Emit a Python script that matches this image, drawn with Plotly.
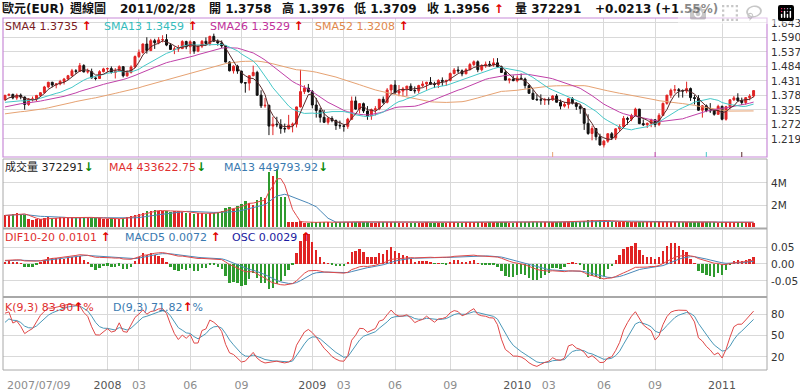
import numpy as np
import pandas as pd
import plotly.graph_objects as go

# ---------------- data (EUR weekly) ----------------
start_date = "2007-07-09"

# 52 weekly closes before the first visible bar (used only to warm up the averages)
pre_close = [1.2650, 1.2560, 1.2740, 1.2880, 1.2820, 1.2890, 1.2770, 1.2820, 1.2700, 1.2660,
             1.2800, 1.2690, 1.2670, 1.2520, 1.2570, 1.2750, 1.2760, 1.2830, 1.2840, 1.3070,
             1.3270, 1.3250, 1.3150, 1.3120, 1.3200, 1.3000, 1.2930, 1.2960, 1.2950, 1.3040,
             1.2990, 1.3140, 1.3200, 1.3170, 1.3120, 1.3270, 1.3330, 1.3350, 1.3410, 1.3520,
             1.3610, 1.3630, 1.3560, 1.3520, 1.3510, 1.3450, 1.3450, 1.3360, 1.3390, 1.3460,
             1.3540, 1.3620]

opens = [1.3620, 1.3785, 1.3818, 1.3690, 1.3790, 1.3720, 1.3450, 1.3640, 1.3650, 1.3780,
         1.3880, 1.4090, 1.4260, 1.4160, 1.4200, 1.4290, 1.4380, 1.4500, 1.4680, 1.4660,
         1.4870, 1.4640, 1.4650, 1.4420, 1.4400, 1.4650, 1.4750, 1.4760, 1.4620, 1.4680,
         1.4830, 1.4500, 1.4620, 1.4820, 1.5200, 1.5350, 1.5660, 1.5420, 1.5780, 1.5710,
         1.5810, 1.5820, 1.5620, 1.5460, 1.5480, 1.5490, 1.5750, 1.5560, 1.5740, 1.5400,
         1.5580, 1.5760, 1.5680, 1.5940, 1.5760, 1.5700, 1.5590, 1.5000, 1.4680, 1.4850,
         1.4670, 1.4250, 1.4230, 1.4500, 1.4620, 1.3790, 1.3400, 1.3420, 1.2660, 1.2730,
         1.2710, 1.2570, 1.2560, 1.2690, 1.2730, 1.3360, 1.3920, 1.4050, 1.3920, 1.3430,
         1.3230, 1.2980, 1.2800, 1.2940, 1.2860, 1.2680, 1.2670, 1.2650, 1.2910, 1.3580,
         1.3280, 1.3480, 1.3210, 1.3030, 1.3260, 1.3290, 1.3640, 1.3530, 1.3980, 1.4160,
         1.3870, 1.3940, 1.4020, 1.4120, 1.3960, 1.3950, 1.4140, 1.4200, 1.4260, 1.4190,
         1.4180, 1.4330, 1.4300, 1.4330, 1.4580, 1.4710, 1.4680, 1.4570, 1.4720, 1.4910,
         1.5010, 1.4720, 1.4860, 1.4920, 1.4890, 1.4970, 1.4830, 1.4620, 1.4340, 1.4380,
         1.4320, 1.4410, 1.4380, 1.4140, 1.3860, 1.3640, 1.3620, 1.3610, 1.3630, 1.3620,
         1.3760, 1.3530, 1.3390, 1.3450, 1.3660, 1.3500, 1.3380, 1.3300, 1.2760, 1.2390,
         1.2570, 1.2270, 1.1970, 1.2110, 1.2380, 1.2230, 1.2560, 1.2640, 1.2940, 1.2910,
         1.3050, 1.3280, 1.2750, 1.2710, 1.2760, 1.2890, 1.2720, 1.3050, 1.3490, 1.3790,
         1.3970, 1.3990, 1.3960, 1.3940, 1.4030, 1.3700, 1.3670, 1.3240, 1.3400, 1.3230,
         1.3220, 1.3090, 1.3380, 1.2910, 1.3370, 1.3620, 1.3690, 1.3590, 1.3520, 1.3700,
         1.3758]

highs = [1.3800, 1.3850, 1.3845, 1.3850, 1.3850, 1.3740, 1.3680, 1.3740, 1.3800, 1.3900,
         1.4130, 1.4280, 1.4280, 1.4230, 1.4350, 1.4420, 1.4530, 1.4750, 1.4740, 1.4967,
         1.4920, 1.4760, 1.4760, 1.4440, 1.4700, 1.4790, 1.4800, 1.4840, 1.4780, 1.4880,
         1.4850, 1.4700, 1.4880, 1.5240, 1.5460, 1.5680, 1.5905, 1.5850, 1.5850, 1.5910,
         1.5980, 1.6019, 1.5690, 1.5570, 1.5620, 1.5800, 1.5780, 1.5790, 1.5760, 1.5620,
         1.5800, 1.5900, 1.5960, 1.6038, 1.5830, 1.5790, 1.5600, 1.5030, 1.4880, 1.4900,
         1.4680, 1.4270, 1.4510, 1.4867, 1.4680, 1.3970, 1.3690, 1.3440, 1.3000, 1.3000,
         1.2910, 1.2750, 1.3070, 1.2790, 1.3370, 1.4719, 1.4150, 1.4200, 1.3980, 1.3690,
         1.3330, 1.3250, 1.2990, 1.3020, 1.2900, 1.2860, 1.2720, 1.2960, 1.3740, 1.3740,
         1.3500, 1.3520, 1.3390, 1.3300, 1.3390, 1.3650, 1.3740, 1.4050, 1.4170, 1.4340,
         1.4160, 1.4090, 1.4130, 1.4220, 1.4110, 1.4170, 1.4300, 1.4280, 1.4450, 1.4280,
         1.4370, 1.4440, 1.4340, 1.4620, 1.4780, 1.4840, 1.4730, 1.4780, 1.4970, 1.5060,
         1.5060, 1.4920, 1.5020, 1.5040, 1.5140, 1.5144, 1.4870, 1.4720, 1.4400, 1.4510,
         1.4510, 1.4580, 1.4430, 1.4180, 1.4000, 1.3820, 1.3820, 1.3690, 1.3710, 1.3790,
         1.3830, 1.3630, 1.3540, 1.3690, 1.3720, 1.3530, 1.3430, 1.3320, 1.3090, 1.2670,
         1.2590, 1.2380, 1.2150, 1.2400, 1.2440, 1.2580, 1.2720, 1.3030, 1.3000, 1.3110,
         1.3333, 1.3290, 1.2900, 1.2790, 1.2930, 1.2900, 1.3130, 1.3520, 1.3800, 1.4030,
         1.4160, 1.4050, 1.4000, 1.4282, 1.4070, 1.3790, 1.3790, 1.3430, 1.3450, 1.3500,
         1.3240, 1.3440, 1.3410, 1.3400, 1.3640, 1.3760, 1.3860, 1.3700, 1.3720, 1.3830,
         1.3976]

lows = [1.3600, 1.3750, 1.3640, 1.3620, 1.3640, 1.3260, 1.3400, 1.3560, 1.3570, 1.3750,
        1.3840, 1.4040, 1.4080, 1.4040, 1.4150, 1.4180, 1.4360, 1.4480, 1.4570, 1.4650,
        1.4620, 1.4580, 1.4400, 1.4330, 1.4380, 1.4620, 1.4620, 1.4580, 1.4400, 1.4660,
        1.4440, 1.4460, 1.4580, 1.4780, 1.5150, 1.5300, 1.5310, 1.5400, 1.5480, 1.5650,
        1.5720, 1.5580, 1.5450, 1.5290, 1.5370, 1.5480, 1.5470, 1.5300, 1.5300, 1.5360,
        1.5510, 1.5620, 1.5600, 1.5800, 1.5600, 1.5510, 1.4990, 1.4660, 1.4580, 1.4570,
        1.4210, 1.3880, 1.3960, 1.4480, 1.3760, 1.3320, 1.3330, 1.2330, 1.2330, 1.2620,
        1.2380, 1.2420, 1.2540, 1.2430, 1.2610, 1.3340, 1.3830, 1.3880, 1.3310, 1.2970,
        1.2790, 1.2770, 1.2710, 1.2800, 1.2520, 1.2560, 1.2457, 1.2560, 1.2880, 1.3260,
        1.3120, 1.3140, 1.2890, 1.2890, 1.3050, 1.3240, 1.3470, 1.3490, 1.3850, 1.3860,
        1.3750, 1.3750, 1.3760, 1.3950, 1.3850, 1.3850, 1.4080, 1.3990, 1.4170, 1.4050,
        1.4050, 1.4130, 1.4130, 1.4290, 1.4550, 1.4600, 1.4480, 1.4560, 1.4700, 1.4850,
        1.4630, 1.4660, 1.4790, 1.4830, 1.4830, 1.4800, 1.4600, 1.4330, 1.4220, 1.4300,
        1.4260, 1.4370, 1.4030, 1.3840, 1.3620, 1.3590, 1.3440, 1.3430, 1.3440, 1.3580,
        1.3520, 1.3270, 1.3340, 1.3300, 1.3450, 1.3250, 1.3110, 1.2520, 1.2340, 1.2140,
        1.2140, 1.1950, 1.1876, 1.2050, 1.2150, 1.2150, 1.2470, 1.2620, 1.2710, 1.2840,
        1.3030, 1.2730, 1.2660, 1.2590, 1.2620, 1.2620, 1.2660, 1.3040, 1.3440, 1.3680,
        1.3860, 1.3700, 1.3700, 1.3860, 1.3580, 1.3450, 1.3220, 1.2970, 1.3170, 1.3140,
        1.3040, 1.3070, 1.2870, 1.2860, 1.3270, 1.3580, 1.3560, 1.3430, 1.3440, 1.3600,
        1.3709]

closes = [1.3785, 1.3818, 1.3690, 1.3790, 1.3720, 1.3450, 1.3640, 1.3650, 1.3780, 1.3880,
          1.4090, 1.4260, 1.4160, 1.4200, 1.4290, 1.4380, 1.4500, 1.4680, 1.4660, 1.4870,
          1.4640, 1.4650, 1.4420, 1.4400, 1.4650, 1.4750, 1.4760, 1.4620, 1.4680, 1.4830,
          1.4500, 1.4620, 1.4820, 1.5200, 1.5350, 1.5660, 1.5420, 1.5780, 1.5710, 1.5810,
          1.5820, 1.5620, 1.5460, 1.5480, 1.5490, 1.5750, 1.5560, 1.5740, 1.5400, 1.5580,
          1.5760, 1.5680, 1.5940, 1.5760, 1.5700, 1.5590, 1.5000, 1.4680, 1.4850, 1.4670,
          1.4250, 1.4230, 1.4500, 1.4620, 1.3790, 1.3400, 1.3420, 1.2660, 1.2730, 1.2710,
          1.2570, 1.2560, 1.2690, 1.2730, 1.3360, 1.3920, 1.4050, 1.3920, 1.3430, 1.3230,
          1.2980, 1.2800, 1.2940, 1.2860, 1.2680, 1.2670, 1.2650, 1.2910, 1.3580, 1.3280,
          1.3480, 1.3210, 1.3030, 1.3260, 1.3290, 1.3640, 1.3530, 1.3980, 1.4160, 1.3870,
          1.3940, 1.4020, 1.4120, 1.3960, 1.3950, 1.4140, 1.4200, 1.4260, 1.4190, 1.4180,
          1.4330, 1.4300, 1.4330, 1.4580, 1.4710, 1.4680, 1.4570, 1.4720, 1.4910, 1.5010,
          1.4720, 1.4860, 1.4920, 1.4890, 1.4970, 1.4830, 1.4620, 1.4340, 1.4380, 1.4320,
          1.4410, 1.4380, 1.4140, 1.3860, 1.3640, 1.3620, 1.3610, 1.3630, 1.3620, 1.3760,
          1.3530, 1.3390, 1.3450, 1.3660, 1.3500, 1.3380, 1.3300, 1.2760, 1.2390, 1.2570,
          1.2270, 1.1970, 1.2110, 1.2380, 1.2230, 1.2560, 1.2640, 1.2940, 1.2910, 1.3050,
          1.3280, 1.2750, 1.2710, 1.2760, 1.2890, 1.2720, 1.3050, 1.3490, 1.3790, 1.3970,
          1.3990, 1.3960, 1.3940, 1.4030, 1.3700, 1.3670, 1.3240, 1.3400, 1.3230, 1.3220,
          1.3090, 1.3380, 1.2910, 1.3370, 1.3620, 1.3690, 1.3590, 1.3520, 1.3700, 1.3750,
          1.3956]

# weekly volume in millions
volume_m = [1.05, 1.10, 1.20, 1.25, 1.20, 1.10, 0.75, 0.65, 0.70, 0.70,
            0.85, 0.90, 0.80, 0.85, 0.90, 0.85, 0.80, 0.90, 0.85, 0.95, 0.90, 0.85, 0.80, 0.85, 0.80,
            0.70, 0.75, 0.80, 0.70, 0.75, 0.85,
            0.90, 1.00, 1.10, 1.20, 1.25,
            1.50, 1.45, 1.55, 1.50, 1.45, 1.50, 1.40, 1.45, 1.50,
            1.35, 1.30, 1.25, 1.20, 1.30, 1.25, 1.20, 1.30, 1.25,
            1.40, 1.50, 1.70, 1.80, 1.60,
            1.90, 2.10, 2.40, 2.20, 2.00, 2.50, 2.70, 2.60,
            5.00, 4.60, 5.30, 2.70, 2.70,
            0.50, 0.45, 0.48, 0.52, 0.40, 0.35,
            0.45, 0.48, 0.46, 0.44, 0.42, 0.40, 0.43, 0.42, 0.45, 0.47, 0.50, 0.46,
            0.44, 0.42, 0.43, 0.41, 0.40, 0.42, 0.44, 0.46, 0.43, 0.42, 0.41, 0.40,
            0.38, 0.40, 0.39, 0.41, 0.40, 0.42, 0.39, 0.38, 0.40, 0.41, 0.39, 0.42,
            0.43, 0.41, 0.40, 0.42, 0.44, 0.45, 0.43, 0.42, 0.41, 0.43, 0.42, 0.44,
            0.43, 0.45, 0.38, 0.36, 0.42, 0.44, 0.46, 0.48, 0.50, 0.47, 0.45, 0.44,
            0.46, 0.44, 0.45, 0.47, 0.44, 0.46, 0.45, 0.48, 0.50, 0.58, 0.62, 0.60,
            0.58, 0.62, 0.60, 0.55, 0.50, 0.48, 0.46, 0.47, 0.45, 0.44, 0.46, 0.48,
            0.45, 0.44, 0.43, 0.44, 0.46, 0.47, 0.45, 0.48, 0.47, 0.46, 0.45, 0.50,
            0.48, 0.46, 0.47, 0.49, 0.46, 0.45, 0.42, 0.38, 0.44, 0.48, 0.47, 0.46,
            0.44, 0.45, 0.43, 0.46, 0.372291]

kd_start = [76.0, 62.0]   # K, D level just before the first bar
price_ticks = [1.219, 1.272, 1.325, 1.378, 1.431, 1.484, 1.537, 1.590, 1.643]
volume_ticks = [2, 4]
volume_tick_labels = ["2M", "4M"]
macd_ticks = [-0.05, 0.0, 0.05]
kd_ticks = [20, 50, 80]

n = len(closes)
assert len(opens) == n and len(highs) == n and len(lows) == n and len(volume_m) == n

# ---------------- indicators ----------------
idx = np.arange(n)
dates = pd.date_range(start_date, periods=n, freq="7D")
np_ = len(pre_close)
allc = pd.Series(pre_close + closes)


def sma(k):
    return allc.rolling(k).mean().iloc[np_:].to_numpy()


sma4, sma13, sma26, sma52 = sma(4), sma(13), sma(26), sma(52)
ema10 = allc.ewm(span=10, adjust=False).mean()
ema20 = allc.ewm(span=20, adjust=False).mean()
dif_all = ema10 - ema20
macd_all = dif_all.ewm(span=5, adjust=False).mean()
dif = dif_all.iloc[np_:].to_numpy()
macd = macd_all.iloc[np_:].to_numpy()
osc = dif - macd
OSC_SCALE = 6.0

hh = pd.Series(highs).rolling(9, min_periods=1).max().to_numpy()
ll = pd.Series(lows).rolling(9, min_periods=1).min().to_numpy()
rsv = (np.array(closes) - ll) / (hh - ll) * 100
K, D = [], []
kp, dp = kd_start
for r in rsv:
    kp = kp * 2 / 3 + r / 3
    dp = dp * 2 / 3 + kp / 3
    K.append(kp)
    D.append(dp)

vol = pd.Series(volume_m)
vma4 = vol.rolling(4, min_periods=1).mean().to_numpy()
vma13 = vol.rolling(13, min_periods=1).mean().to_numpy()

RED = "#e02424"
GREEN = "#2e9a2e"
vol_colors = [RED if c >= o else GREEN for o, c in zip(opens, closes)]
osc_colors = [RED if v >= 0 else GREEN for v in osc]

# x ticks: first week of Jan / Mar / Jun / Sep, from the first full year on
tickvals, ticktext = [], []
for i, d in enumerate(dates):
    if d.year >= 2008 and d.month in (1, 3, 6, 9) and dates[i - 1].month != d.month:
        tickvals.append(i)
        if d.month == 1:
            ticktext.append('<span style="color:#555555">%d</span>' % d.year)
        else:
            ticktext.append("%02d" % d.month)

# ---------------- figure ----------------
W, H = 800, 391
FONT = "DejaVu Sans, Noto Sans CJK TC, sans-serif"
GRID = "#d9d9d9"


def px(x):
    return x / W


def py(y):
    return 1 - y / H


fig = go.Figure()

fig.add_trace(go.Candlestick(
    x=idx, open=opens, high=highs, low=lows, close=closes,
    increasing=dict(line=dict(color=RED, width=1), fillcolor=RED),
    decreasing=dict(line=dict(color="#111111", width=1), fillcolor="#111111"),
    whiskerwidth=0, xaxis="x", yaxis="y", hoverinfo="skip"))
for vals, col in [(sma52, "#e6a272"), (sma26, "#c040a8"), (sma13, "#46c8c8"), (sma4, "#5a2a2a")]:
    fig.add_trace(go.Scatter(x=idx, y=vals, mode="lines", line=dict(color=col, width=1),
                             xaxis="x", yaxis="y", hoverinfo="skip"))

fig.add_trace(go.Bar(x=idx, y=volume_m, marker=dict(color=vol_colors, line=dict(width=0)),
                     width=0.6, xaxis="x2", yaxis="y2", hoverinfo="skip"))
fig.add_trace(go.Scatter(x=idx, y=vma13, mode="lines", line=dict(color="#4a88b8", width=1),
                         xaxis="x2", yaxis="y2", hoverinfo="skip"))
fig.add_trace(go.Scatter(x=idx, y=vma4, mode="lines", line=dict(color="#e04848", width=1),
                         xaxis="x2", yaxis="y2", hoverinfo="skip"))

fig.add_trace(go.Bar(x=idx, y=osc * OSC_SCALE, marker=dict(color=osc_colors, line=dict(width=0)),
                     width=0.6, xaxis="x3", yaxis="y3", hoverinfo="skip"))
fig.add_trace(go.Scatter(x=idx, y=macd, mode="lines", line=dict(color="#4a88b8", width=1),
                         xaxis="x3", yaxis="y3", hoverinfo="skip"))
fig.add_trace(go.Scatter(x=idx, y=dif, mode="lines", line=dict(color="#e04848", width=1),
                         xaxis="x3", yaxis="y3", hoverinfo="skip"))

fig.add_trace(go.Scatter(x=idx, y=D, mode="lines", line=dict(color="#4a98b8", width=1),
                         xaxis="x4", yaxis="y4", hoverinfo="skip"))
fig.add_trace(go.Scatter(x=idx, y=K, mode="lines", line=dict(color="#e04848", width=1),
                         xaxis="x4", yaxis="y4", hoverinfo="skip"))

XD = [px(3), px(767)]
XR = [-0.5, 193.4]
xcommon = dict(domain=XD, range=XR, tickvals=tickvals, ticktext=ticktext, showgrid=True,
               gridcolor=GRID, gridwidth=1, zeroline=False, showline=False, ticks="",
               fixedrange=True)
ycommon = dict(side="right", showgrid=True, gridcolor=GRID, gridwidth=1, zeroline=False,
               showline=False, ticks="", fixedrange=True, showticklabels=False)

fig.update_layout(
    width=W, height=H, margin=dict(l=0, r=0, t=0, b=0),
    paper_bgcolor="white", plot_bgcolor="white", showlegend=False, bargap=0,
    xaxis=dict(xcommon, anchor="y", showticklabels=False, rangeslider=dict(visible=False)),
    xaxis2=dict(xcommon, anchor="y2", showticklabels=False, matches="x"),
    xaxis3=dict(xcommon, anchor="y3", showticklabels=False, matches="x"),
    xaxis4=dict(xcommon, anchor="y4", showticklabels=True, matches="x", ticklabelstandoff=7,
                tickfont=dict(family=FONT, size=11, color="#8c8c8c")),
    yaxis=dict(ycommon, anchor="x", domain=[py(157), py(18)], range=[1.153, 1.661],
               tickvals=price_ticks),
    yaxis2=dict(ycommon, anchor="x2", domain=[py(228), py(159)], range=[-0.09, 6.18],
                tickvals=volume_ticks),
    yaxis3=dict(ycommon, anchor="x3", domain=[py(297), py(230)], range=[-0.0994, 0.1012],
                tickvals=macd_ticks),
    yaxis4=dict(ycommon, anchor="x4", domain=[py(370), py(298)], range=[1.2, 103],
                tickvals=kd_ticks),
)

shapes = []
# frames
shapes.append(dict(type="rect", xref="paper", yref="paper", x0=px(3), x1=px(767),
                   y0=py(157), y1=py(18), line=dict(color="#c88ad8", width=1.2)))
for y, w in [(159, 1), (228.5, 2), (297, 2), (370, 1)]:
    shapes.append(dict(type="line", xref="paper", yref="paper", x0=px(3), x1=px(767),
                       y0=py(y), y1=py(y), line=dict(color="#a8a8a8", width=w)))
for x in (3, 767):
    shapes.append(dict(type="line", xref="paper", yref="paper", x0=px(x), x1=px(x),
                       y0=py(159), y1=py(370), line=dict(color="#a8a8a8", width=1)))
# markers for the start of each SMA window
for k, col in [(52, "#e6a272"), (26, "#c040a8"), (13, "#46c8c8"), (4, "#5a2a2a")]:
    xs = n - k
    shapes.append(dict(type="line", xref="x", yref="paper", x0=xs, x1=xs,
                       y0=py(157), y1=py(152), line=dict(color=col, width=1)))
fig.update_layout(shapes=shapes)

UP = '<span style="color:#e00000;font-size:12px"><b>↑</b></span>'
DOWN = '<span style="color:#0a8a0a;font-size:12px"><b>↓</b></span>'
annots = []


def ann(x, y, text, color, size=11, xanchor="left"):
    annots.append(dict(x=px(x), y=py(y), xref="paper", yref="paper", xanchor=xanchor,
                       yanchor="middle", showarrow=False, text=text,
                       font=dict(family=FONT, size=size, color=color)))


# right-hand value labels, placed at the axes' own tick values
for yref, vals, texts in [("y", price_ticks, ["%.3f" % v for v in price_ticks]),
                          ("y2", volume_ticks, volume_tick_labels),
                          ("y3", macd_ticks, ["%.2f" % v for v in macd_ticks]),
                          ("y4", kd_ticks, [str(v) for v in kd_ticks])]:
    for v, t in zip(vals, texts):
        annots.append(dict(x=px(769), y=v, xref="paper", yref=yref, xanchor="left",
                           yanchor="middle", showarrow=False, text=t,
                           font=dict(family=FONT, size=10.5, color="#333333")))

# header
header = [(0, "<b>歐元(EUR)</b>"), (68, "<b>週線圖</b>"), (118, "<b>2011/02/28</b>"),
          (207, "<b>開 1.3758</b>"), (280, "<b>高 1.3976</b>"), (352, "<b>低 1.3709</b>"),
          (425, "<b>收 1.3956 </b>" + UP), (513, "<b>量 372291</b>"),
          (593, "<b>+0.0213 (+1.55%)</b>")]
for x, t in header:
    ann(x, 9, t, "#111111", size=12)

# panel legends
ann(3, 26, "SMA4 1.3735 " + UP, "#7a1c24")
ann(102, 26, "SMA13 1.3459 " + UP, "#36bcbc")
ann(208, 26, "SMA26 1.3529 " + UP, "#c0309a")
ann(313, 26, "SMA52 1.3208 " + UP, "#e0884c")
ann(3, 167, "成交量 372291" + DOWN, "#222222")
ann(107, 167, "MA4 433622.75" + DOWN, "#e03030")
ann(222, 167, "MA13 449793.92" + DOWN, "#3a7ab0")
ann(3, 237, "DIF10-20 0.0101 " + UP, "#e03030")
ann(123, 237, "MACD5 0.0072 " + UP, "#3a7ab0")
ann(230, 237, "OSC 0.0029 " + UP, "#1a1aa0")
ann(3, 307, "K(9,3) 83.90" + UP + "%", "#e03030")
ann(111, 307, "D(9,3) 71.82" + UP + "%", "#3a7ab0")

# first date label (left aligned at the first bar)
annots.append(dict(x=0, y=py(385), xref="x", yref="paper", xanchor="left", yanchor="middle",
                   showarrow=False, text=dates[0].strftime("%Y/%m/%d"),
                   font=dict(family=FONT, size=11, color="#8c8c8c")))
fig.update_layout(annotations=annots)

fig.write_html("out.html", post_script="document.body.style.margin='0px';")
